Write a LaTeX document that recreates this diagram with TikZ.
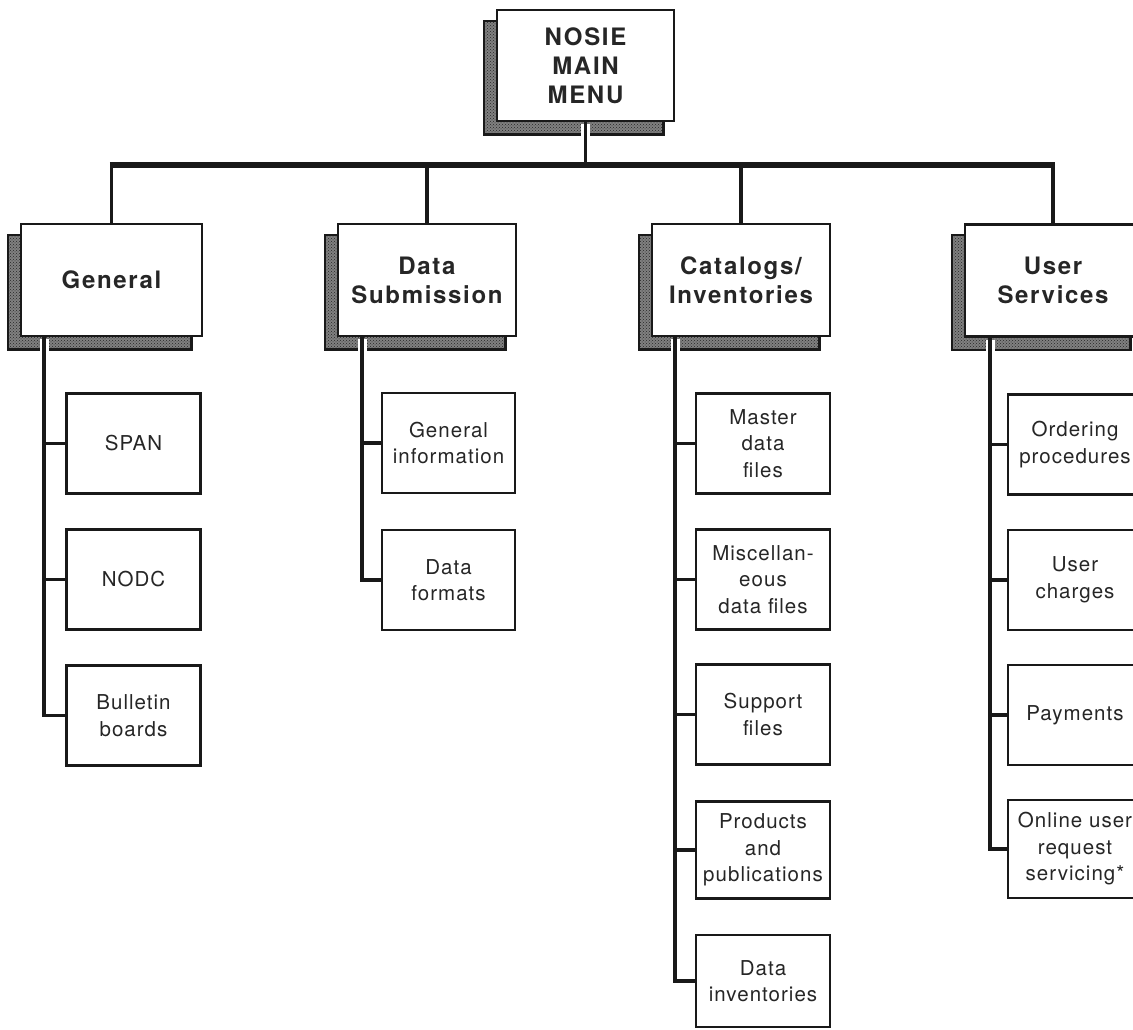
\documentclass[tikz,border=0pt]{standalone}
\usepackage{fontspec}
\setmainfont{TeX Gyre Heros}
\newfontfamily\headfam[LetterSpace=7]{TeX Gyre Heros}
\newfontfamily\itemfam[LetterSpace=5]{TeX Gyre Heros}
\usetikzlibrary{patterns,calc,backgrounds}
\begin{document}
\begin{tikzpicture}[x=1pt,y=-1pt,
  menubox/.style={draw=black!90, line width=2.6pt, fill=white, minimum width=178pt,
    minimum height=112pt, inner sep=0pt, align=center, text=black!85,
    font=\headfam\bfseries\fontsize{24}{29}\selectfont},
  itembox/.style={draw=black!90, line width=2.3pt, fill=white, minimum width=134pt,
    minimum height=100pt, inner sep=0pt, align=center, text=black!85,
    font=\itemfam\fontsize{20.5}{26.5}\selectfont},
  shadowrect/.style={draw=black!90, line width=2.4pt, preaction={fill=black!50},
    pattern=crosshatch dots, pattern color=black!85},
  link/.style={draw=black!90, line width=3.2pt},
  bus/.style={draw=black!90, line width=5.5pt, shorten <=-1.6pt, shorten >=-1.6pt},
  gap/.style={draw=white, line width=9pt},
]
\useasboundingbox (0,0) rectangle (1133,1029);
\clip (0,0) rectangle (1133,1029);

% top menu and the four main menu entries
\node[menubox, minimum width=177pt, minimum height=111pt] (menu) at (585.5,65.5) {NOSIE\\MAIN\\MENU};
\node[menubox, minimum width=181pt] (general) at (111.5,280) {General};
\node[menubox] (datasub) at (427,280) {Data\\Submission};
\node[menubox] (catalogs) at (741,280) {Catalogs/\\Inventories};
\node[menubox, minimum width=176pt] (usersvc) at (1053,280.5) {User\\Services};

% sub-menu entries
\node[itembox] (span) at (133.5,443.5) {SPAN};
\node[itembox] (nodc) at (133.5,579.5) {NODC};
\node[itembox] (bulletin) at (133.5,715.5) {Bulletin\\boards};

\node[itembox, minimum width=133pt] (geninfo) at (448.5,443) {General\\information};
\node[itembox, minimum width=133pt] (formats) at (448.5,580) {Data\\formats};

\node[itembox] (master) at (763,443.5) {Master\\data\\files};
\node[itembox] (misc) at (763,579.5) {Miscellan-\\eous\\data files};
\node[itembox] (support) at (763,714.5) {Support\\files};
\node[itembox, minimum height=97pt] (products) at (763,850) {Products\\and\\publications};
\node[itembox, minimum height=92pt] (datainv) at (763,981) {Data\\inventories};

\node[itembox] (ordering) at (1075,444.5) {Ordering\\procedures};
\node[itembox] (charges) at (1075,580) {User\\charges};
\node[itembox] (payments) at (1075,715) {Payments};
\node[itembox, minimum height=98pt] (online) at (1075,849) {Online user\\request\\servicing*};

% offset shadows behind the main menu boxes
\begin{scope}[on background layer]
  \fill[white] (0,0) rectangle (1133,1029);
  \foreach \b in {menu,general,datasub,catalogs,usersvc}{
    \path[shadowrect] ([shift={(-12,12)}]\b.north west) rectangle ([shift={(-12,12)}]\b.south east);
  }
\end{scope}

% spine positions and the bus level
\coordinate (busy) at (0,165);
\coordinate (gx) at (44,0);
\coordinate (dx) at (362,0);
\coordinate (cx) at (675,0);
\coordinate (ux) at (990,0);

% white lanes where connectors leave through a shadow
\draw[gap] ($(menu.south)+(0,2)$) -- ++(0,12);
\draw[gap] ($(general.south -| gx)+(0,2)$) -- ++(0,12);
\draw[gap] ($(datasub.south -| dx)+(0,2)$) -- ++(0,12);
\draw[gap] ($(catalogs.south -| cx)+(0,2)$) -- ++(0,12);
\draw[gap] ($(usersvc.south -| ux)+(0,2)$) -- ++(0,12);

% main menu to the bus, bus to the four entries
\draw[link] (menu.south) -- (menu.south |- busy);
\draw[bus] (general.north |- busy) -- (usersvc.north |- busy);
\foreach \b in {general,datasub,catalogs,usersvc}{
  \draw[link] (\b.north |- busy) -- (\b.north);
}

% General branch
\draw[link] (general.south -| gx) -- (gx |- bulletin.west) -- (bulletin.west);
\draw[link] (gx |- span.west) -- (span.west);
\draw[link] (gx |- nodc.west) -- (nodc.west);

% Data Submission branch
\draw[link] (datasub.south -| dx) -- (dx |- formats.west) -- (formats.west);
\draw[link] (dx |- geninfo.west) -- (geninfo.west);

% Catalogs/Inventories branch
\draw[link] (catalogs.south -| cx) -- (cx |- datainv.west) -- (datainv.west);
\foreach \b in {master,misc,support,products}{
  \draw[link] (cx |- \b.west) -- (\b.west);
}

% User Services branch
\draw[link] (usersvc.south -| ux) -- (ux |- online.west) -- (online.west);
\foreach \b in {ordering,charges,payments}{
  \draw[link] (ux |- \b.west) -- (\b.west);
}
\end{tikzpicture}
\end{document}
